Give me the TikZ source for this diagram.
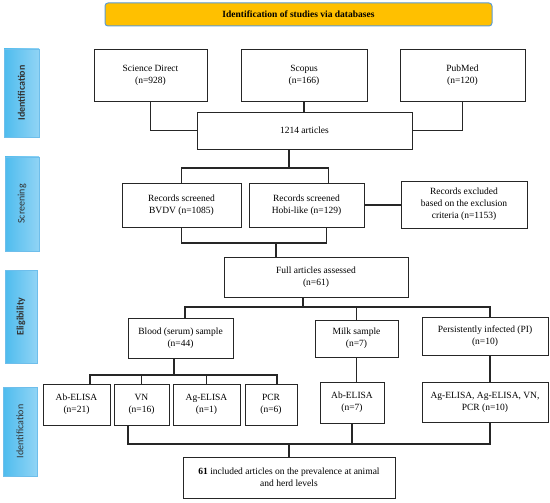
\documentclass[tikz,border=0pt]{standalone}
\usepackage{fontspec}
\setmainfont{Liberation Serif}
\newfontfamily\sidefont{Carlito}
\usetikzlibrary{positioning}

\definecolor{bannerfill}{RGB}{255,192,0}
\definecolor{bannerline}{RGB}{91,155,213}
\definecolor{sidelight}{RGB}{145,212,245}
\definecolor{sidedark}{RGB}{78,188,238}
\definecolor{sideline}{RGB}{110,190,235}

\tikzset{
    box/.style={draw=black!85, line width=0.9pt, fill=white, align=center, inner sep=2pt,
        font=\fontsize{9.5}{12}\selectfont},
    side/.style={draw=sideline, line width=0.6pt, rotate=90, left color=sidedark, right color=sidelight,
        font=\sidefont\fontsize{10}{12}\selectfont, text=black!80},
    link/.style={draw=black!85, line width=1.4pt}
}

\begin{document}
\begin{tikzpicture}[x=1pt,y=-1pt]
        \useasboundingbox (0,0) rectangle (550,503);

        % banner and stages
        \node[draw=bannerline, line width=1pt, fill=bannerfill, rounded corners=3pt,
            minimum width=387, minimum height=23, font=\bfseries\fontsize{9.5}{11}\selectfont] (head) at (298.5,14.5) {Identification of studies via databases};
        \node[side, minimum width=88, minimum height=35, font=\sidefont\bfseries\fontsize{10}{12}\selectfont] (st1) at (21.5,93) {Identification};
        \node[side, minimum width=94, minimum height=34] (st2) at (22,204) {Screening};
        \node[side, minimum width=93, minimum height=32, font=\sidefont\bfseries\fontsize{10}{12}\selectfont] (st3) at (21,316.5) {Eligibility};
        \node[side, minimum width=89, minimum height=34] (st4) at (20,431.5) {Identification};

        % databases
        \node[box, minimum width=113, minimum height=52] (sd) at (150.5,75) {Science Direct\\(n=928)};
        \node[box, minimum width=126, minimum height=52] (sc) at (304,75) {Scopus\\(n=166)};
        \node[box, minimum width=125, minimum height=52] (pm) at (462.5,75) {PubMed\\(n=120)};
        \node[box, minimum width=215, minimum height=37] (art) at (304.5,130.5) {1214 articles};

        % screening
        \node[box, minimum width=119, minimum height=44] (bvdv) at (181.5,205) {Records screened\\BVDV (n=1085)};
        \node[box, minimum width=115, minimum height=44] (hobi) at (306.5,205) {Records screened\\Hobi-like (n=129)};
        \node[box, minimum width=126, minimum height=47] (excl) at (464,204.5) {Records excluded\\based on the exclusion\\criteria (n=1153)};

        % eligibility
        \node[box, minimum width=184, minimum height=40] (full) at (316,277) {Full articles assessed\\(n=61)};
        \node[box, minimum width=105, minimum height=40] (blood) at (180.5,338) {Blood (serum) sample\\(n=44)};
        \node[box, minimum width=83, minimum height=37] (milk) at (356.5,338.5) {Milk sample\\(n=7)};
        \node[box, minimum width=126, minimum height=38] (pi) at (485,336) {Persistently infected (PI)\\(n=10)};

        % tests
        \node[box, minimum width=67, minimum height=41] (abe) at (76.5,404.5) {Ab-ELISA\\(n=21)};
        \node[box, minimum width=55, minimum height=41] (vn) at (141.5,404.5) {VN\\(n=16)};
        \node[box, minimum width=67, minimum height=41] (age) at (206.5,404.5) {Ag-ELISA\\(n=1)};
        \node[box, minimum width=52, minimum height=41] (pcr) at (271,404.5) {PCR\\(n=6)};
        \node[box, minimum width=64, minimum height=41] (abm) at (352,402.5) {Ab-ELISA\\(n=7)};
        \node[box, minimum width=126, minimum height=40] (pit) at (485,402) {Ag-ELISA, Ag-ELISA, VN,\\PCR (n=10)};
        \node[box, minimum width=212, minimum height=41] (fin) at (289,477.5) {\textbf{61} included articles on the prevalence at animal\\and herd levels};

        \coordinate (s1) at (289,168);
        \coordinate (s2) at (276,243);
        \coordinate (e1) at (303,307);
        \coordinate (t1) at (174,375);
        \coordinate (f1) at (289,444);

        \draw[link] (sd.south) |- (art.west);
        \draw[link] (sc.south) -- (sc.south |- art.north);
        \draw[link] (pm.south) |- (art.east);
        \draw[link] (s1 |- art.south) -- (s1);
        \draw[link] (bvdv.north) |- (s1) -| ([xshift=22pt]hobi.north);
        \draw[link] (hobi.east) -- (hobi.east -| excl.west);
        \draw[link] (bvdv.south) |- (s2) -| ([xshift=20pt]hobi.south);
        \draw[link] (s2) -- (s2 |- full.north);
        \draw[link] (e1 |- full.south) -- (e1);
        \draw[link] ([xshift=4.5pt]blood.north) |- (e1) -| ([xshift=5pt]pi.north);
        \draw[link] (milk.north) -- (milk.north |- e1);
        \draw[link] ([xshift=-6.5pt]blood.south) -- (t1);
        \draw[link] ([xshift=13.5pt]abe.north) |- (t1) -| ([xshift=6pt]pcr.north);
        \draw[link] (vn.north) -- (vn.north |- t1);
        \draw[link] (age.north) -- (age.north |- t1);
        \draw[link] (milk.south) -- (milk.south |- abm.north);
        \draw[link] ([xshift=5pt]pi.south) -- ([xshift=5pt]pit.north);
        \draw[link] ([xshift=-13.5pt]vn.south) |- (f1) -| ([xshift=5pt]pit.south);
        \draw[link] (abm.south) -- (abm.south |- f1);
        \draw[link] (f1) -- (fin.north);

    \end{tikzpicture}
\end{document}
